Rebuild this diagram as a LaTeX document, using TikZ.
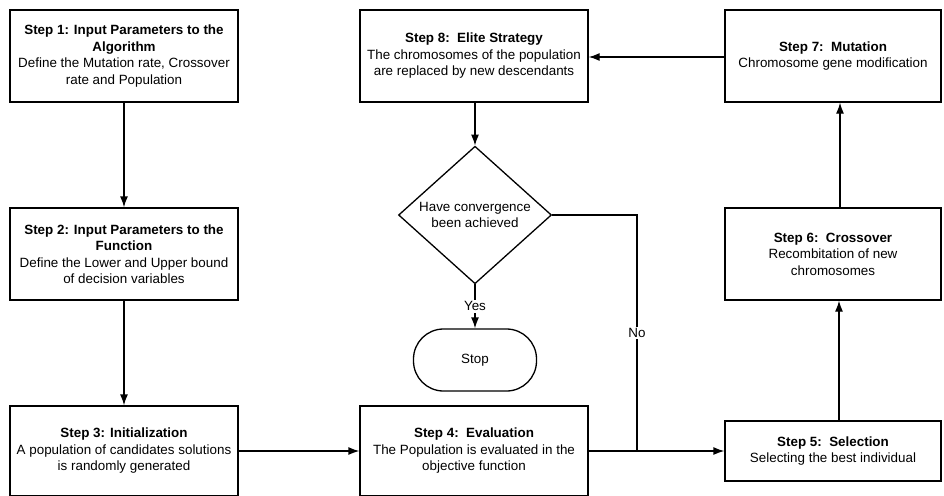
\documentclass[tikz,border=0pt]{standalone}
\usepackage{fontspec}
\setmainfont{Liberation Sans}
\usetikzlibrary{arrows.meta}
\usetikzlibrary{shapes.geometric}

\begin{document}
\begin{tikzpicture}[x=1pt,y=-1pt,
  box/.style={draw,line width=1.3pt,minimum width=228pt,minimum height=92pt,align=center,inner sep=2pt,font=\fontsize{13.4}{16.5}\selectfont},
  decision/.style={draw,diamond,line width=1.3pt,minimum width=153pt,minimum height=136pt,inner sep=0pt,align=center,font=\fontsize{13.4}{16.5}\selectfont},
  terminal/.style={draw,line width=1.3pt,rounded corners=30pt,minimum width=123pt,minimum height=62pt,font=\fontsize{13.4}{16.5}\selectfont},
  flow/.style={->,>={Latex[length=11pt,width=8pt]},line width=1.3pt},
  lbl/.style={fill=white,inner sep=1.5pt,font=\fontsize{13.4}{16.5}\selectfont}]
\useasboundingbox (0,0) rectangle (944,495);
% left column
\node[box] (s1) at (124,56) {\textbf{Step 1: Input Parameters to the}\\\textbf{Algorithm}\\Define the Mutation rate, Crossover\\rate and Population};
\node[box] (s2) at (124,254) {\textbf{Step 2: Input Parameters to the}\\\textbf{Function}\\Define the Lower and Upper bound\\of decision variables};
\node[box,minimum height=90pt] (s3) at (124,451) {\textbf{Step 3: Initialization}\\A population of candidates solutions\\is randomly generated};
% middle column
\node[box] (s8) at (474,56) {\textbf{Step 8:\ \ Elite Strategy}\\The chromosomes of the population\\are replaced by new descendants};
\node[decision] (dec) at (475,215) {Have convergence\\been achieved};
\node[terminal] (stop) at (475,360) {Stop};
\node[box,minimum height=90pt] (s4) at (474,451) {\textbf{Step 4:\ \ Evaluation}\\The Population is evaluated in the\\objective function};
% right column
\node[box,minimum width=216pt] (s7) at (833,56) {\textbf{Step 7:\ \ Mutation}\\Chromosome gene modification};
\node[box,minimum width=216pt] (s6) at (833,254) {\textbf{Step 6:\ \ Crossover}\\Recombitation of new\\chromosomes};
\node[box,minimum width=216pt,minimum height=60pt] (s5) at (833,451) {\textbf{Step 5:\ \ Selection}\\Selecting the best individual};
\coordinate (j) at (637,451);

\draw[flow] (s1) -- (s2);
\draw[flow] (s2) -- (s3);
\draw[flow] (s3) -- (s4);
\draw[line width=1.3pt] (s4) -- (j);
\draw[flow] (dec.east) -| node[pos=0.75,lbl]{No} (j) -- (s5.west);
\draw[flow] (s5.north -| 839,0) -- (s6.south -| 839,0);
\draw[flow] (s6.north -| 840,0) -- (s7.south -| 840,0);
\draw[flow] (s7.west |- 0,57) -- (s8.east |- 0,57);
\draw[flow] (s8.south -| dec.north) -- (dec.north);
\draw[flow] (dec.south) -- node[lbl]{Yes} (stop.north);
\end{tikzpicture}
\end{document}
